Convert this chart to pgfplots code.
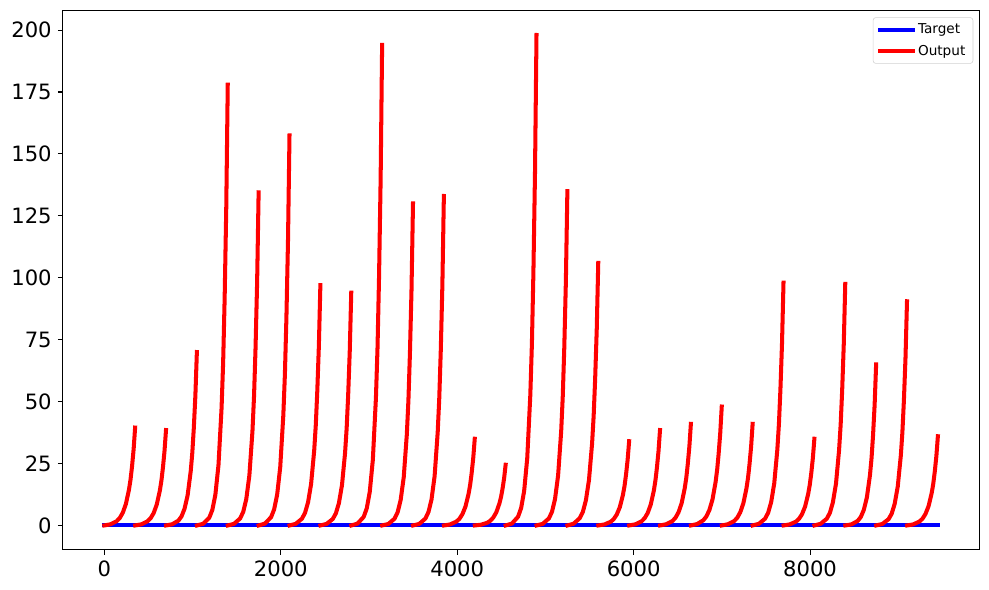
\documentclass[border=0pt]{standalone}
\usepackage{fontspec}
\setmainfont{DejaVu Sans}
\usepackage{pgfplots}
\pgfplotsset{compat=1.18}
\definecolor{mplred}{RGB}{255,0,0}
\definecolor{mplblue}{RGB}{0,0,255}
\begin{document}
\begin{tikzpicture}
\begin{axis}[
  scale only axis,
  width=660.1pt, height=388.4pt,
  xmin=-472, xmax=9921,
  ymin=-9.9, ymax=207.9,
  xtick={0,2000,4000,6000,8000},
  ytick={0,25,50,75,100,125,150,175,200},
  /pgf/number format/assume math mode=true,
  /pgf/number format/1000 sep={},
  tick label style={font=\fontsize{15.2}{18}\selectfont, black},
  tick align=outside, tick pos=left,
  major tick length=3.4pt,
  every tick/.style={black, line width=0.77pt},
  axis line style={line width=0.77pt},
  xticklabel style={yshift=-1pt},
  yticklabel style={xshift=-1pt},
  unbounded coords=jump,
  legend cell align=left,
  legend style={at={(1,1)}, anchor=north east, xshift=-4.5pt, yshift=-4.9pt,
    draw=black!18, rounded corners=2pt, fill=white, fill opacity=0.8, text opacity=1,
    font=\fontsize{9.8}{11}\selectfont, inner xsep=3.5pt, inner ysep=2.5pt, row sep=2.6pt},
  legend image code/.code={\draw[#1, line cap=rect] (0pt,0pt) -- (21pt,0pt); \path (0pt,0pt) -- (24pt,0pt);},
]
\coordinate (bl) at (rel axis cs:0,0);
\coordinate (tr) at (rel axis cs:1,1);
\addplot[mplblue, line width=2.9pt, line cap=rect] coordinates {(0,0) (9449,0)};
\addlegendentry{Target}
\addplot[mplred, line width=2.9pt, line cap=rect, line join=round] coordinates {
(0,0)(70,.46)(140,1.71)(175,3.00)(209,5.11)(244,8.61)(279,14.36)(297,18.52)(314,23.85)(332,30.70)(349,39.5)
(349.5,nan)
(350,0)(420,.45)(490,1.67)(525,2.92)(559,4.98)(594,8.39)(629,14.00)(647,18.05)(664,23.25)(682,29.93)(699,38.5)
(699.5,nan)
(700,0)(770,.47)(840,1.95)(875,3.65)(909,6.69)(944,12.11)(979,21.80)(997,29.20)(1014,39.10)(1032,52.32)(1049,70)
(1049.5,nan)
(1050,0)(1120,.67)(1190,3.15)(1225,6.33)(1259,12.48)(1294,24.37)(1329,47.38)(1347,65.98)(1364,91.87)(1382,127.91)(1399,178)
(1399.5,nan)
(1400,0)(1470,.63)(1540,2.83)(1575,5.53)(1609,10.60)(1644,20.11)(1679,37.97)(1697,52.13)(1714,71.51)(1732,98.10)(1749,134.5)
(1749.5,nan)
(1750,0)(1820,.73)(1890,3.31)(1925,6.47)(1959,12.41)(1994,23.55)(2029,44.46)(2047,61.05)(2064,83.74)(2082,114.88)(2099,157.5)
(2099.5,nan)
(2100,0)(2170,.65)(2240,2.70)(2275,5.06)(2309,9.27)(2344,16.78)(2379,30.21)(2397,40.47)(2414,54.17)(2432,72.50)(2449,97)
(2449.5,nan)
(2450,0)(2520,.63)(2590,2.62)(2625,4.90)(2659,8.98)(2694,16.26)(2729,29.27)(2747,39.22)(2764,52.50)(2782,70.26)(2799,94)
(2799.5,nan)
(2800,0)(2870,.73)(2940,3.44)(2975,6.90)(3009,13.60)(3044,26.56)(3079,51.64)(3097,71.92)(3114,100.12)(3132,139.41)(3149,194)
(3149.5,nan)
(3150,0)(3220,.60)(3290,2.73)(3325,5.34)(3359,10.24)(3394,19.44)(3429,36.70)(3447,50.39)(3464,69.12)(3482,94.82)(3499,130)
(3499.5,nan)
(3500,0)(3570,.62)(3640,2.80)(3675,5.47)(3709,10.48)(3744,19.88)(3779,37.55)(3797,51.55)(3814,70.72)(3832,97.01)(3849,133)
(3849.5,nan)
(3850,0)(3920,.41)(3990,1.52)(4025,2.66)(4059,4.53)(4094,7.63)(4129,12.73)(4147,16.41)(4164,21.14)(4182,27.21)(4199,35)
(4199.5,nan)
(4200,0)(4270,.29)(4340,1.06)(4375,1.86)(4409,3.17)(4444,5.34)(4479,8.91)(4497,11.49)(4514,14.79)(4532,19.04)(4549,24.5)
(4549.5,nan)
(4550,0)(4620,.74)(4690,3.51)(4725,7.04)(4759,13.88)(4794,27.11)(4829,52.71)(4847,73.40)(4864,102.19)(4882,142.28)(4899,198)
(4899.5,nan)
(4900,0)(4970,.63)(5040,2.84)(5075,5.55)(5109,10.64)(5144,20.18)(5179,38.11)(5197,52.33)(5214,71.78)(5232,98.47)(5249,135)
(5249.5,nan)
(5250,0)(5320,.70)(5390,2.95)(5425,5.53)(5459,10.13)(5494,18.34)(5529,33.01)(5547,44.22)(5564,59.20)(5582,79.22)(5599,106)
(5599.5,nan)
(5600,0)(5670,.40)(5740,1.47)(5775,2.58)(5809,4.40)(5844,7.41)(5879,12.36)(5897,15.94)(5914,20.53)(5932,26.43)(5949,34)
(5949.5,nan)
(5950,0)(6020,.45)(6090,1.67)(6125,2.92)(6159,4.98)(6194,8.39)(6229,14.00)(6247,18.05)(6264,23.25)(6282,29.93)(6299,38.5)
(6299.5,nan)
(6300,0)(6370,.48)(6440,1.78)(6475,3.11)(6509,5.31)(6544,8.93)(6579,14.91)(6597,19.22)(6614,24.76)(6632,31.87)(6649,41)
(6649.5,nan)
(6650,0)(6720,.56)(6790,2.08)(6825,3.64)(6859,6.22)(6894,10.46)(6929,17.45)(6947,22.50)(6964,28.99)(6982,37.31)(6999,48)
(6999.5,nan)
(7000,0)(7070,.48)(7140,1.78)(7175,3.11)(7209,5.31)(7244,8.93)(7279,14.91)(7297,19.22)(7314,24.76)(7332,31.87)(7349,41)
(7349.5,nan)
(7350,0)(7420,.65)(7490,2.73)(7525,5.11)(7559,9.36)(7594,16.95)(7629,30.52)(7647,40.89)(7664,54.73)(7682,73.25)(7699,98)
(7699.5,nan)
(7700,0)(7770,.41)(7840,1.52)(7875,2.66)(7909,4.53)(7944,7.63)(7979,12.73)(7997,16.41)(8014,21.14)(8032,27.21)(8049,35)
(8049.5,nan)
(8050,0)(8120,.65)(8190,2.72)(8225,5.08)(8259,9.32)(8294,16.87)(8329,30.36)(8347,40.68)(8364,54.45)(8382,72.87)(8399,97.5)
(8399.5,nan)
(8400,0)(8470,.43)(8540,1.81)(8575,3.39)(8609,6.21)(8644,11.25)(8679,20.24)(8697,27.12)(8714,36.30)(8732,48.58)(8749,65)
(8749.5,nan)
(8750,0)(8820,.60)(8890,2.52)(8925,4.72)(8959,8.65)(8994,15.66)(9029,28.18)(9047,37.76)(9064,50.54)(9082,67.64)(9099,90.5)
(9099.5,nan)
(9100,0)(9170,.42)(9240,1.56)(9275,2.73)(9309,4.66)(9344,7.84)(9379,13.09)(9397,16.88)(9414,21.74)(9432,27.98)(9449,36)
};
\addlegendentry{Output}
\end{axis}
\pgfresetboundingbox
\path[use as bounding box] ([xshift=-45.14pt,yshift=-28.8pt]bl) rectangle ([xshift=6.84pt,yshift=7.56pt]tr);
\end{tikzpicture}
\end{document}
